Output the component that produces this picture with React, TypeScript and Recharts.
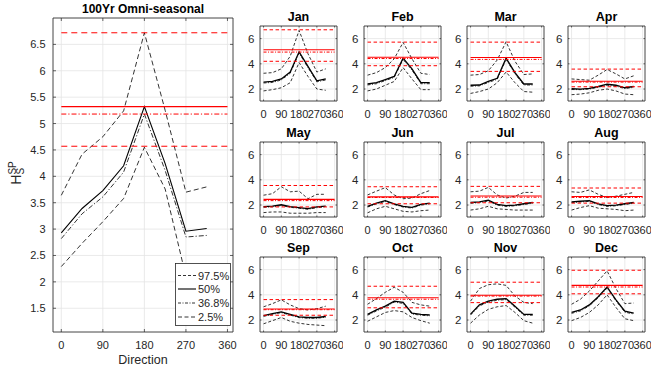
import React from 'react';
import { LineChart, Line, XAxis, YAxis, CartesianGrid, ReferenceLine } from 'recharts';

// ---------- data ----------
const directions = [0, 45, 90, 135, 180, 225, 270, 315];
const xTicks = [0, 90, 180, 270, 360];
const mainYTicks = [1.5, 2, 2.5, 3, 3.5, 4, 4.5, 5, 5.5, 6, 6.5];
const smallYTicks = [2, 4, 6];
const legendLabels = ['97.5%', '50%', '36.8%', '2.5%'];
const mainTitle = '100Yr Omni-seasonal';

// Omni-seasonal
const omniP975 = [3.64, 4.42, 4.75, 5.24, 6.72, 5.25, 3.7, 3.8];
const omniP50 = [2.93, 3.39, 3.73, 4.2, 5.32, 4.24, 2.96, 3.01];
const omniP368 = [2.82, 3.29, 3.61, 4.08, 5.18, 4.11, 2.85, 2.88];
const omniP25 = [2.29, 2.73, 3.14, 3.58, 4.55, 3.76, 2.1, 2.2];
const omniLevels = [6.72, 5.32, 5.18, 4.57]; // 97.5, 50, 36.8, 2.5

// Monthly
const monthNames = ['Jan', 'Feb', 'Mar', 'Apr', 'May', 'Jun', 'Jul', 'Aug', 'Sep', 'Oct', 'Nov', 'Dec'];
const monthP975 = [
  [3.25, 3.3, 3.6, 4.6, 6.65, 4.8, 3.35, 3.6],
  [3.1, 3.3, 3.7, 4.4, 5.7, 4.4, 3.25, 3.15],
  [3.1, 3.15, 3.45, 4.3, 5.75, 4.2, 3.15, 3.2],
  [2.8, 2.75, 2.7, 3.1, 3.55, 3.2, 2.8, 3.05],
  [2.78, 2.9, 3.45, 3.05, 3.1, 2.5, 2.85, 2.85],
  [2.8, 3.1, 3.38, 2.8, 2.5, 2.55, 2.9, 3.15],
  [3.05, 3.1, 3.4, 2.8, 2.55, 2.7, 3.0, 3.0],
  [3.05, 3.0, 3.2, 2.85, 2.6, 2.7, 2.85, 3.0],
  [3.05, 3.3, 3.6, 3.2, 2.9, 2.8, 2.9, 3.1],
  [3.25, 3.7, 4.2, 4.6, 4.2, 3.4, 3.2, 3.1],
  [3.5, 4.5, 4.8, 4.87, 4.75, 3.9, 3.4, 3.3],
  [3.25, 3.65, 4.3, 5.1, 5.9, 4.5, 3.3, 3.35],
];
const monthP50 = [
  [2.55, 2.6, 2.8, 3.35, 4.95, 3.8, 2.65, 2.8],
  [2.4, 2.5, 2.75, 3.0, 4.45, 3.6, 2.5, 2.5],
  [2.3, 2.32, 2.6, 2.85, 4.45, 3.3, 2.4, 2.4],
  [2.02, 2.0, 2.05, 2.2, 2.38, 2.3, 2.1, 2.2],
  [1.88, 1.92, 2.02, 1.88, 1.8, 1.72, 1.85, 1.92],
  [1.9, 2.15, 2.35, 2.1, 1.9, 1.82, 2.05, 2.15],
  [2.2, 2.25, 2.38, 2.05, 1.95, 2.0, 2.1, 2.2],
  [2.25, 2.3, 2.35, 2.1, 1.95, 2.0, 2.1, 2.2],
  [2.35, 2.5, 2.65, 2.45, 2.25, 2.2, 2.2, 2.28],
  [2.45, 2.8, 3.1, 3.5, 3.4, 2.55, 2.45, 2.4],
  [2.47, 3.2, 3.5, 3.65, 3.7, 3.1, 2.45, 2.45],
  [2.6, 2.8, 3.2, 3.85, 4.62, 3.6, 2.7, 2.55],
];
const monthP368 = [
  [2.48, 2.52, 2.72, 3.25, 4.85, 3.7, 2.57, 2.72],
  [2.32, 2.42, 2.67, 2.92, 4.35, 3.5, 2.42, 2.42],
  [2.22, 2.25, 2.52, 2.77, 4.35, 3.2, 2.32, 2.32],
  [1.96, 1.95, 2.0, 2.14, 2.3, 2.22, 2.04, 2.13],
  [1.82, 1.86, 1.96, 1.82, 1.74, 1.66, 1.79, 1.86],
  [1.84, 2.09, 2.29, 2.04, 1.84, 1.76, 1.99, 2.09],
  [2.14, 2.19, 2.32, 1.99, 1.89, 1.94, 2.04, 2.14],
  [2.19, 2.24, 2.29, 2.04, 1.89, 1.94, 2.04, 2.14],
  [2.29, 2.44, 2.59, 2.39, 2.19, 2.14, 2.14, 2.22],
  [2.38, 2.72, 3.02, 3.42, 3.32, 2.48, 2.38, 2.33],
  [2.4, 3.12, 3.42, 3.57, 3.62, 3.02, 2.38, 2.38],
  [2.53, 2.72, 3.12, 3.77, 4.54, 3.52, 2.62, 2.48],
];
const monthP25 = [
  [1.85, 1.95, 2.1, 2.5, 4.1, 3.0, 2.0, 1.9],
  [1.85, 2.0, 2.3, 2.6, 3.7, 2.8, 1.95, 1.95],
  [1.65, 1.8, 2.0, 2.5, 3.35, 2.5, 1.8, 1.75],
  [1.55, 1.6, 1.7, 1.9, 2.0, 1.85, 1.6, 1.55],
  [1.4, 1.45, 1.45, 1.35, 1.35, 1.35, 1.4, 1.4],
  [1.38, 1.7, 1.9, 1.7, 1.5, 1.45, 1.55, 1.6],
  [1.6, 1.7, 1.9, 1.7, 1.65, 1.6, 1.6, 1.6],
  [1.6, 1.8, 1.95, 1.75, 1.7, 1.65, 1.55, 1.6],
  [1.7, 1.95, 2.2, 1.9, 1.75, 1.65, 1.6, 1.55],
  [1.9, 2.25, 2.6, 2.75, 2.65, 2.2, 1.95, 1.75],
  [1.75, 2.4, 2.85, 3.05, 3.15, 2.6, 1.95, 1.75],
  [1.95, 2.2, 2.6, 3.2, 4.0, 3.0, 2.1, 1.95],
];
const monthLevels = [
  [6.7, 5.12, 4.93, 4.2],
  [5.72, 4.52, 4.42, 3.85],
  [5.72, 4.5, 4.35, 3.4],
  [3.58, 2.62, 2.55, 2.18],
  [3.55, 2.45, 2.35, 1.85],
  [3.45, 2.65, 2.6, 2.1],
  [3.48, 2.72, 2.62, 2.18],
  [3.35, 2.68, 2.6, 2.15],
  [3.62, 2.88, 2.82, 2.38],
  [4.68, 3.77, 3.65, 2.97],
  [5.0, 3.97, 3.9, 3.38],
  [5.95, 4.75, 4.62, 4.08],
];

// ---------- style ----------
const X_DOMAIN: [number, number] = [-18, 372];
const Y_DOMAIN: [number, number] = [1.05, 7];
const AXIS = '#262626';
const GRID = '#e4e4e4';
const FONT = '"Liberation Sans", Arial, Helvetica, sans-serif';

function buildRows(p975: number[], p50: number[], p368: number[], p25: number[]) {
  return directions.map((d, i) => ({ dir: d, p975: p975[i], p50: p50[i], p368: p368[i], p25: p25[i] }));
}

type PanelProps = {
  plotLeft: number;
  plotTop: number;
  plotW: number;
  plotH: number;
  yTicks: number[];
  rows: any[];
  levels: number[];
  big: boolean;
};

function Panel({ plotLeft, plotTop, plotW, plotH, yTicks, rows, levels, big }: PanelProps) {
  const padL = big ? 53 : 36;
  const padR = 6;
  const padT = 4;
  const padB = 24;
  const width = padL + plotW + padR;
  const height = padT + plotH + padB;
  const axisBottom = padT + plotH;
  const axisLeft = padL;
  const tickLen = big ? 3 : 1.5;
  const fs = big ? 11 : 11;
  const xLabOff = big ? 17 : 16.5;
  const yLabGap = big ? 7.5 : 5.5;
  const dash = big ? '5 3' : '3 2';
  const dashDot = big ? '5 2 1.2 2' : '3 1.5 1 1.5';
  const redDash = big ? '6 4' : '3.5 2.5';

  const XTick = (p: any) => (
    <g>
      <line x1={p.x} x2={p.x} y1={axisBottom} y2={axisBottom - tickLen} stroke={AXIS} strokeWidth={0.7} />
      <line x1={p.x} x2={p.x} y1={padT} y2={padT + tickLen} stroke={AXIS} strokeWidth={0.7} />
      <text x={p.x} y={axisBottom + xLabOff} textAnchor="middle" fontSize={fs} fill={AXIS} fontFamily={FONT}>
        {p.payload.value}
      </text>
    </g>
  );
  const YTick = (p: any) => (
    <g>
      <line x1={axisLeft} x2={axisLeft + tickLen} y1={p.y} y2={p.y} stroke={AXIS} strokeWidth={0.7} />
      <line x1={axisLeft + plotW} x2={axisLeft + plotW - tickLen} y1={p.y} y2={p.y} stroke={AXIS} strokeWidth={0.7} />
      <text x={axisLeft - yLabGap} y={p.y + 4} textAnchor="end" fontSize={big ? 11 : 11.5} fill={AXIS} fontFamily={FONT}>
        {p.payload.value}
      </text>
    </g>
  );

  return (
    <div style={{ position: 'absolute', left: plotLeft - padL, top: plotTop - padT }}>
      <LineChart width={width} height={height} data={rows} margin={{ top: padT, right: padR, bottom: 0, left: 0 }}>
        <CartesianGrid stroke={GRID} strokeWidth={0.8} />
        <XAxis
          dataKey="dir"
          type="number"
          domain={X_DOMAIN}
          allowDataOverflow
          ticks={xTicks}
          interval={0}
          tickLine={false}
          tickSize={0}
          axisLine={{ stroke: AXIS, strokeWidth: 0.8 }}
          tick={XTick}
          height={padB}
        />
        <YAxis
          type="number"
          domain={Y_DOMAIN}
          allowDataOverflow
          ticks={yTicks}
          interval={0}
          tickLine={false}
          tickSize={0}
          axisLine={{ stroke: AXIS, strokeWidth: 0.8 }}
          tick={YTick}
          width={padL}
        />
        <ReferenceLine x={X_DOMAIN[1]} stroke={AXIS} strokeWidth={0.8} />
        <ReferenceLine y={Y_DOMAIN[1]} stroke={AXIS} strokeWidth={0.8} />
        <Line dataKey="p975" type="linear" stroke="#000" strokeWidth={0.8} strokeDasharray={dash} dot={false} isAnimationActive={false} />
        <Line dataKey="p25" type="linear" stroke="#000" strokeWidth={0.8} strokeDasharray={dash} dot={false} isAnimationActive={false} />
        <Line dataKey="p368" type="linear" stroke="#000" strokeWidth={0.8} strokeDasharray={dashDot} dot={false} isAnimationActive={false} />
        <Line dataKey="p50" type="linear" stroke="#000" strokeWidth={big ? 1.1 : 1.3} dot={false} isAnimationActive={false} />
        <ReferenceLine segment={[{ x: 0, y: levels[0] }, { x: 360, y: levels[0] }]} stroke="#ff0000" strokeWidth={1} strokeDasharray={redDash} />
        <ReferenceLine segment={[{ x: 0, y: levels[1] }, { x: 360, y: levels[1] }]} stroke="#ff0000" strokeWidth={1.1} />
        <ReferenceLine segment={[{ x: 0, y: levels[2] }, { x: 360, y: levels[2] }]} stroke="#ff0000" strokeWidth={1} strokeDasharray={dashDot} />
        <ReferenceLine segment={[{ x: 0, y: levels[3] }, { x: 360, y: levels[3] }]} stroke="#ff0000" strokeWidth={1} strokeDasharray={redDash} />
      </LineChart>
    </div>
  );
}

const MAIN = { left: 53, top: 18, w: 180, h: 314 };
const COL_LEFTS = [260, 364, 467, 568];
const ROW_TOPS = [26, 142, 257];
const SMALL_W = 77;
const SMALL_H = 75;

export default function App() {
  const mainRows = buildRows(omniP975, omniP50, omniP368, omniP25);
  const legendY = [275.5, 289, 303, 317];
  const legendDash = ['3 2', '', '3 1.5 1 1.5', '4 2.5'];
  return (
    <div style={{ position: 'absolute', left: 0, top: 0, width: 652, height: 370, overflow: 'hidden', background: '#fff', fontFamily: FONT }}>
      <Panel plotLeft={MAIN.left} plotTop={MAIN.top} plotW={MAIN.w} plotH={MAIN.h} yTicks={mainYTicks} rows={mainRows} levels={omniLevels} big />
      {monthNames.map((m, i) => (
        <Panel
          key={m}
          plotLeft={COL_LEFTS[i % 4]}
          plotTop={ROW_TOPS[Math.floor(i / 4)]}
          plotW={SMALL_W}
          plotH={SMALL_H}
          yTicks={smallYTicks}
          rows={buildRows(monthP975[i], monthP50[i], monthP368[i], monthP25[i])}
          levels={monthLevels[i]}
          big={false}
        />
      ))}
      <svg width={652} height={370} style={{ position: 'absolute', left: 0, top: 0, pointerEvents: 'none' }}>
        <text x={MAIN.left + MAIN.w / 2} y={13} textAnchor="middle" fontSize={12} fontWeight="bold" fill="#000" fontFamily={FONT}>
          {mainTitle}
        </text>
        {monthNames.map((m, i) => (
          <text
            key={m}
            x={COL_LEFTS[i % 4] + SMALL_W / 2}
            y={ROW_TOPS[Math.floor(i / 4)] - 5}
            textAnchor="middle"
            fontSize={12.5}
            fontWeight="bold"
            fill="#000"
            fontFamily={FONT}
          >
            {m}
          </text>
        ))}
        <text x={143} y={364} textAnchor="middle" fontSize={12.5} fill={AXIS} fontFamily={FONT}>
          Direction
        </text>
        <text transform="translate(21,173) rotate(-90)" textAnchor="middle" fontSize={14} fill={AXIS} fontFamily={FONT}>
          H
          <tspan fontSize={10} dy={3}>S</tspan>
          <tspan fontSize={10} dx={-6.7} dy={-8.5}>SP</tspan>
        </text>
        <rect x={175.5} y={263.5} width={55} height={62} fill="#fff" stroke={AXIS} strokeWidth={0.8} />
        {legendLabels.map((l, i) => (
          <g key={l}>
            <line x1={178} x2={196} y1={legendY[i]} y2={legendY[i]} stroke="#000" strokeWidth={i === 1 ? 1.1 : 0.8} strokeDasharray={legendDash[i] || undefined} />
            <text x={198} y={legendY[i] + 4} fontSize={11} fill={AXIS} fontFamily={FONT}>
              {l}
            </text>
          </g>
        ))}
      </svg>
    </div>
  );
}
